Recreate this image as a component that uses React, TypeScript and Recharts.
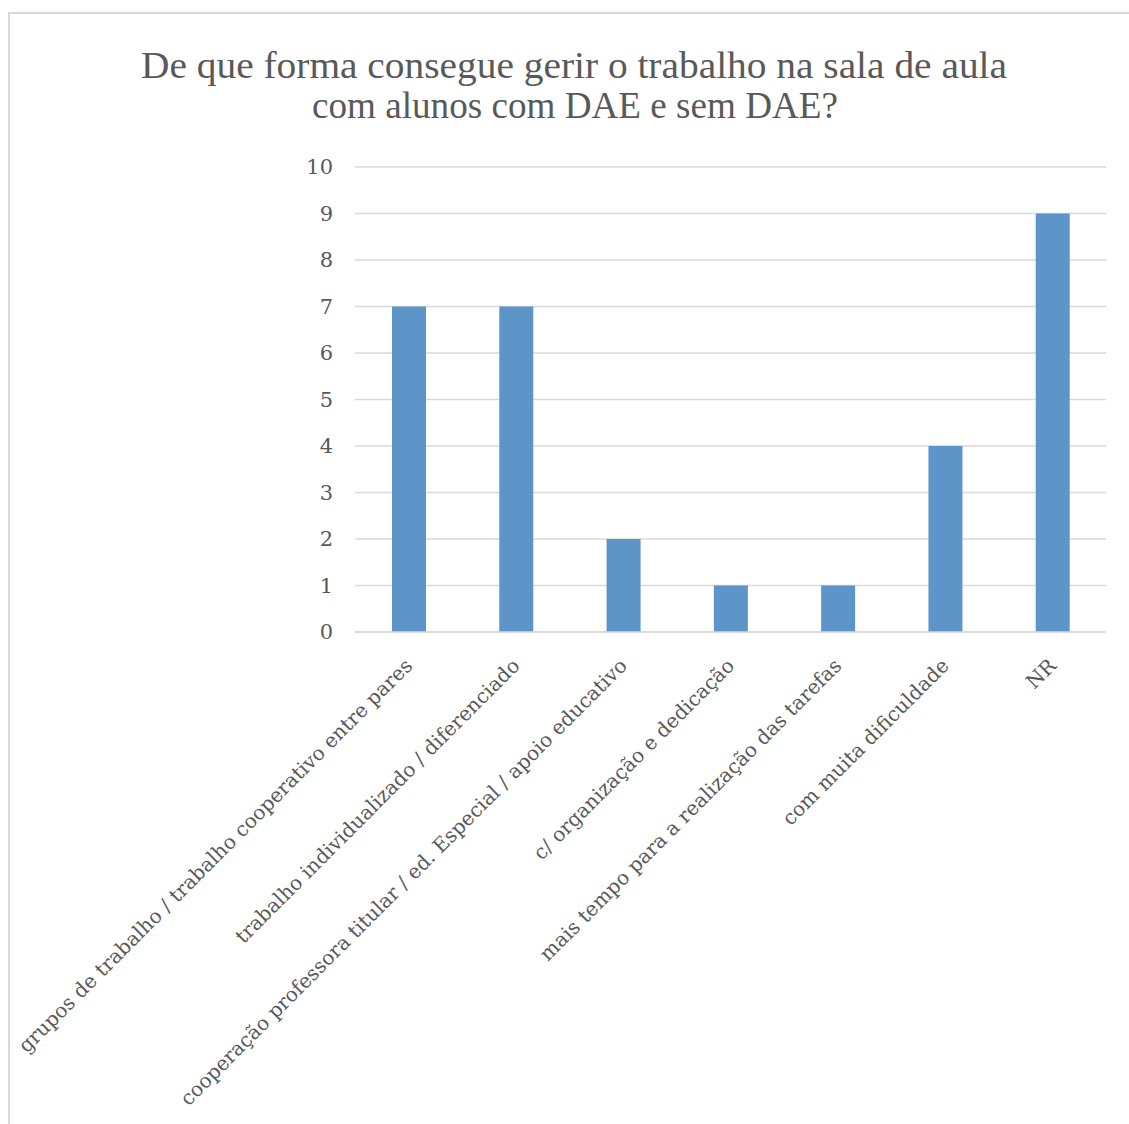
import React from "react";
import { BarChart, Bar, XAxis, YAxis, CartesianGrid } from "recharts";

const categories = [
  "grupos de trabalho / trabalho cooperativo entre pares",
  "trabalho individualizado / diferenciado",
  "cooperação professora titular / ed. Especial / apoio educativo",
  "c/ organização e dedicação",
  "mais tempo para a realização das tarefas",
  "com muita dificuldade",
  "NR",
];
const values = [7, 7, 2, 1, 1, 4, 9];
const yTicks = [0, 1, 2, 3, 4, 5, 6, 7, 8, 9, 10];
const titleLines = [
  "De que forma consegue gerir o trabalho na sala de aula",
  "com alunos com DAE e sem DAE?",
];

const data = categories.map((c, i) => ({ name: c, value: values[i] }));

const TEXT = "#595959";
const TICK_FONT = "'DejaVu Serif', serif";

const XTick = (props: any) => {
  const { x, y, payload } = props;
  return (
    <g transform={`translate(${x + 5},${y + 35})`}>
      <text
        x={0}
        y={0}
        textAnchor="end"
        transform="rotate(-45)"
        fill={TEXT}
        fontSize={20}
        fontFamily={TICK_FONT}
      >
        {payload.value}
      </text>
    </g>
  );
};

const YTick = (props: any) => {
  const { x, y, payload } = props;
  return (
    <text
      x={x - 22}
      y={y}
      textAnchor="end"
      dominantBaseline="central"
      fill={TEXT}
      fontSize={21}
      fontFamily={TICK_FONT}
    >
      {payload.value}
    </text>
  );
};

export default function App() {
  return (
    <div
      style={{
        position: "relative",
        width: 1129,
        height: 1124,
        overflow: "hidden",
        background: "#fff",
      }}
    >
      <style>{`html,body{margin:0;padding:0;overflow:hidden;}`}</style>
      <div
        style={{
          position: "absolute",
          left: 8,
          top: 12,
          width: 1140,
          height: 1140,
          borderLeft: "2px solid #d9d9d9",
          borderTop: "2px solid #d9d9d9",
          boxSizing: "border-box",
        }}
      />
      <svg
        width={1129}
        height={140}
        style={{ position: "absolute", left: 0, top: 0 }}
      >
        <text
          x={574}
          y={78}
          textAnchor="middle"
          fill={TEXT}
          fontSize={38}
          fontFamily="'Liberation Serif', serif"
          textLength={866}
          lengthAdjust="spacingAndGlyphs"
        >
          {titleLines[0]}
        </text>
        <text
          x={575}
          y={118}
          textAnchor="middle"
          fill={TEXT}
          fontSize={38}
          fontFamily="'Liberation Serif', serif"
          textLength={526}
          lengthAdjust="spacingAndGlyphs"
        >
          {titleLines[1]}
        </text>
      </svg>
      <div style={{ position: "absolute", left: 0, top: 0 }}>
        <BarChart
          width={1129}
          height={1124}
          data={data}
          margin={{ top: 167, right: 23, bottom: 22, left: 295 }}
        >
          <CartesianGrid
            vertical={false}
            stroke="#d9d9d9"
            strokeWidth={1.3}
          />
          <XAxis
            dataKey="name"
            interval={0}
            height={470}
            tickLine={false}
            tickSize={0}
            tickMargin={0}
            axisLine={{ stroke: "#d9d9d9", strokeWidth: 1.5 }}
            tick={<XTick />}
          />
          <YAxis
            width={60}
            domain={[0, 10]}
            ticks={yTicks}
            interval={0}
            axisLine={false}
            tickLine={false}
            tickSize={0}
            tickMargin={0}
            tick={<YTick />}
          />
          <Bar
            dataKey="value"
            fill="#5e95c9"
            barSize={34}
            isAnimationActive={false}
          />
        </BarChart>
      </div>
    </div>
  );
}
